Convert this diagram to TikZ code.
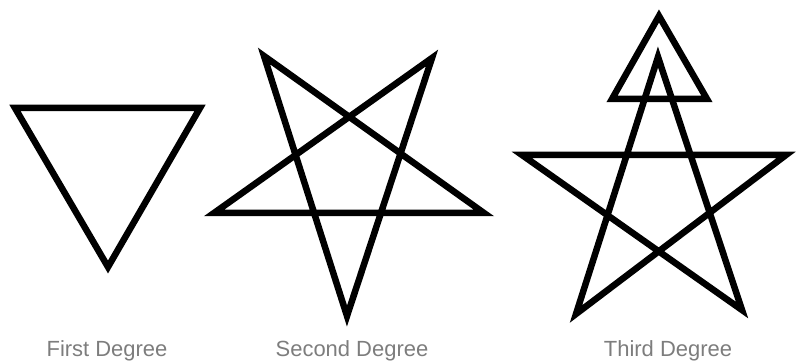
\documentclass[tikz,border=0pt]{standalone}
\usepackage{fontspec}
\setmainfont{Liberation Sans}
\usepackage{tikz}
\usetikzlibrary{positioning}
\usepackage{xcolor}
\definecolor{capgray}{RGB}{125,125,125}

\begin{document}
\begin{tikzpicture}[
  x=0.02cm, y=-0.02cm,
  sign/.style={draw=black,line width=0.13cm,line join=miter},
  caption/.style={font=\fontsize{12.5}{14}\selectfont,text=capgray}
]
\useasboundingbox (0,0) rectangle (796,364);

% first degree: inverted triangle
\draw[sign] (15,108) -- (200,108) -- (108,267) -- cycle;

% second degree: inverted pentagram
\draw[sign] (264,56) -- (347,316) -- (432,58) -- (214,213) -- (484,213) -- cycle;

% third degree: pentagram with small triangle on top
\draw[sign] (658,57) -- (576,314) -- (786,155) -- (522,155) -- (742,310) -- cycle;
\draw[sign] (659,16) -- (707,99) -- (612,99) -- cycle;

\node[caption] (first) at (107,351) {First Degree};
\node[caption] (second) at (352,351) {Second Degree};
\node[caption] (third) at (668,351) {Third Degree};

\end{tikzpicture}
\end{document}
